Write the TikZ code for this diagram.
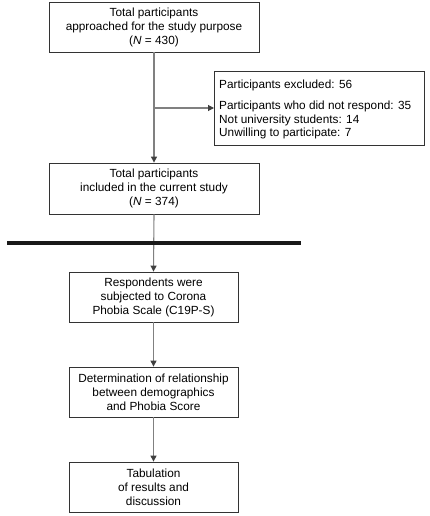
\documentclass[tikz,border=0pt]{standalone}
\usepackage{fontspec}
\setmainfont{Liberation Sans}
\usetikzlibrary{arrows.meta}
\begin{document}
\begin{tikzpicture}[x=1bp,y=-1bp,
  box/.style={draw=black!80, line width=0.8bp, fill=white, inner sep=0pt, align=center,
    font=\fontsize{11.8bp}{14bp}\selectfont},
  conn/.style={draw=black!50, line width=1.1bp, -{Triangle[length=6bp,width=6bp,fill=black!75,color=black!75]}}]
\useasboundingbox (0,0) rectangle (429,516);
\node[box, minimum width=210bp, minimum height=50bp] (b1) at (154,27) {Total participants\\approached for the study purpose\\(\textit{N} = 430)};
\node[box, minimum width=210bp, minimum height=74bp, align=left, anchor=north west] (ex) at (214,71) {};
\node[anchor=north west, inner sep=0pt, align=left, font=\fontsize{11.8bp}{13.5bp}\selectfont] (ext) at (219,80) {Participants excluded: 56\\[7.5bp]Participants who did not respond: 35\\Not university students: 14\\Unwilling to participate: 7};
\node[box, minimum width=210bp, minimum height=51bp] (b2) at (154,188.5) {Total participants\\included in the current study\\(\textit{N} = 374)};
\node[box, minimum width=169bp, minimum height=50bp] (b3) at (153.5,297) {Respondents were\\subjected to Corona\\Phobia Scale (C19P-S)};
\node[box, minimum width=169bp, minimum height=50bp] (b4) at (153.5,392) {Determination of relationship\\between demographics\\and Phobia Score};
\node[box, minimum width=169bp, minimum height=50bp] (b5) at (153.5,487) {Tabulation\\of results and\\discussion};
\coordinate (j) at (b1.south |- 0,108);
\draw[conn] (b1.south) -- (b2.north);
\draw[conn] (j) -- (j -| ex.west);
\draw[conn] (b2.south) -- (b3.north);
\draw[conn] (b3.south) -- (b4.north);
\draw[conn] (b4.south) -- (b5.north);
\coordinate (t1) at (7,243);
\coordinate (t2) at (301,243);
\draw[line width=4bp, black!90] (t1) -- (t2);
\end{tikzpicture}
\end{document}
